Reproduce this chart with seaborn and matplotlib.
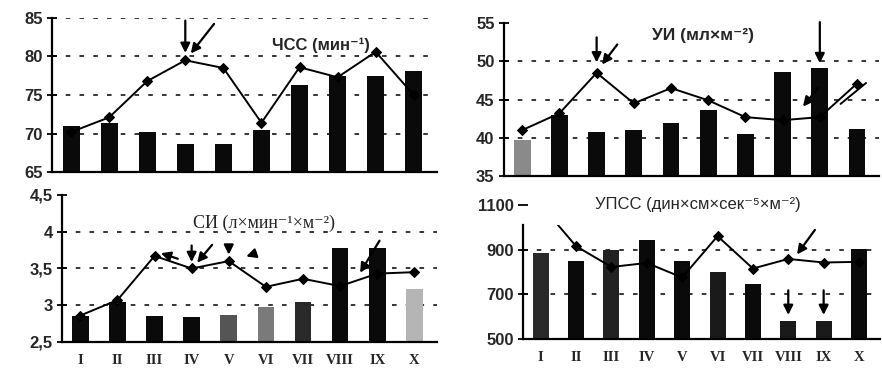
import numpy as np
import pandas as pd
import matplotlib
matplotlib.use("Agg")
import matplotlib.pyplot as plt
from matplotlib.patches import Rectangle
import seaborn as sns

stages = ["I", "II", "III", "IV", "V", "VI", "VII", "VIII", "IX", "X"]

hr_bars = [71.0, 71.4, 70.2, 68.6, 68.7, 70.4, 76.3, 77.5, 77.5, 78.1]
hr_line = [70.2, 72.1, 76.8, 79.5, 78.5, 71.4, 78.6, 77.3, 80.6, 75.0]

si_bars = [39.7, 43.0, 40.7, 41.0, 41.9, 43.6, 40.5, 48.6, 49.1, 41.1]
si_line = [41.0, 43.2, 48.5, 44.5, 46.5, 44.9, 42.7, 42.3, 42.7, 47.1]

ci_bars = [2.86, 3.05, 2.85, 2.84, 2.87, 2.97, 3.04, 3.78, 3.78, 3.22]
ci_line = [2.86, 3.07, 3.67, 3.50, 3.60, 3.25, 3.36, 3.26, 3.43, 3.45]

svr_bars = [883, 850, 900, 941, 850, 801, 745, 580, 580, 903]
svr_line = [1100, 915, 822, 840, 775, 960, 815, 858, 842, 845]

sns.set_theme(style="white")
plt.rcParams["font.family"] = ["Liberation Sans", "DejaVu Sans"]

fig = plt.figure(figsize=(8.82, 3.8), dpi=100)
fig.patch.set_facecolor("white")

SANS = ["Liberation Sans", "DejaVu Sans"]
SERIF = ["Liberation Serif", "DejaVu Serif"]

panels = [
    dict(pos=[0.059, 0.547, 0.436, 0.406], bars=hr_bars, line=hr_line, ylim=(65, 85),
         ticks=[65, 70, 75, 80, 85], labels=["65", "70", "75", "80", "85"], grid=[70, 75, 80, 85],
         title="ЧСС (мин⁻¹)", tpos=(0.70, 0.825), tsize=12, tfam=SANS, tweight="bold",
         colors=["#0a0a0a"] * 10, xlabels=False, spine_top=None),
    dict(pos=[0.571, 0.537, 0.426, 0.402], bars=si_bars, line=si_line, ylim=(35, 55),
         ticks=[35, 40, 45, 50, 55], labels=["35", "40", "45", "50", "55"], grid=[40, 45, 50],
         title="УИ (мл×м⁻²)", tpos=(0.53, 0.92), tsize=12.5, tfam=SANS, tweight="bold",
         colors=["#8a8a8a"] + ["#0a0a0a"] * 9, xlabels=False, spine_top=None),
    dict(pos=[0.070, 0.10, 0.425, 0.387], bars=ci_bars, line=ci_line, ylim=(2.5, 4.5),
         ticks=[2.5, 3, 3.5, 4, 4.5], labels=["2,5", "3", "3,5", "4", "4,5"], grid=[3, 3.5, 4],
         title="СИ (л×мин⁻¹×м⁻²)", tpos=(0.54, 0.81), tsize=13, tfam=SERIF, tweight="normal",
         colors=["#0a0a0a"] * 4 + ["#555555", "#7a7a7a", "#2a2a2a", "#0a0a0a", "#0a0a0a", "#b5b5b5"],
         xlabels=True, spine_top=None),
    dict(pos=[0.593, 0.108, 0.405, 0.353], bars=svr_bars, line=svr_line, ylim=(500, 1100),
         ticks=[500, 700, 900, 1100], labels=["500", "700", "900", "1100"], grid=[700, 900],
         title="УПСС (дин×см×сек⁻⁵×м⁻²)", tpos=(0.49, 1.0), tsize=12, tfam=SANS, tweight="normal",
         colors=["#2a2a2a", "#0a0a0a", "#222222", "#0a0a0a", "#0a0a0a", "#1a1a1a", "#0a0a0a", "#1a1a1a", "#1a1a1a", "#0a0a0a"],
         xlabels=True, spine_top=1010),
]

axes = []
for p in panels:
    ax = fig.add_axes(p["pos"])
    axes.append(ax)
    df = pd.DataFrame({"stage": stages, "bar": p["bars"], "line": p["line"], "pos": np.arange(len(stages))})
    sns.barplot(data=df, x="stage", y="bar", hue="stage", palette=p["colors"], legend=False,
                width=0.45, ax=ax, edgecolor="none", zorder=2)
    sns.lineplot(data=df, x="pos", y="line", ax=ax, color="black", lw=1.4, marker="D",
                 markersize=5.5, markeredgecolor="black", zorder=4)
    ax.set_ylim(*p["ylim"])
    ax.set_xlim(-0.5, 9.6)
    if p["spine_top"] is not None:
        ln = ax.lines[-1]
        clip = Rectangle((-0.5, p["ylim"][0]), 10.1, p["spine_top"] - p["ylim"][0],
                         transform=ax.transData, facecolor="none", edgecolor="none")
        ax.add_patch(clip)
        ln.set_clip_path(clip)
        ax.spines["left"].set_bounds(p["ylim"][0], p["spine_top"])
    ax.set_yticks(p["ticks"])
    ax.set_yticklabels(p["labels"], fontsize=12, fontweight="bold")
    for t in p["grid"]:
        ax.axhline(t, color="black", lw=1.1, ls=(0, (3, 6)), zorder=1)
    ax.set_xlabel("")
    ax.set_ylabel("")
    ax.set_xticks(np.arange(10))
    if p["xlabels"]:
        ax.set_xticklabels(stages, fontsize=10.5, fontweight="bold", family="Liberation Serif")
    else:
        ax.set_xticklabels([])
    ax.set_xticks(np.arange(10) + 0.5, minor=True)
    ax.tick_params(axis="x", which="major", length=0, pad=9)
    ax.tick_params(axis="x", which="minor", length=6, width=1.3, direction="inout", color="black")
    ax.tick_params(axis="y", length=7, width=1.3, direction="inout", color="black", left=True, pad=3)
    for s in ["top", "right"]:
        ax.spines[s].set_visible(False)
    for s in ["left", "bottom"]:
        ax.spines[s].set_color("black")
        ax.spines[s].set_linewidth(1.6)
    ax.set_facecolor("white")
    ax.text(p["tpos"][0], p["tpos"][1], p["title"], transform=ax.transAxes, ha="center",
            va="center", fontsize=p["tsize"], family=p["tfam"], fontweight=p["tweight"])

ap = dict(arrowstyle="-|>", color="black", lw=1.6, mutation_scale=14)

# Panel 1 arrows
ax = axes[0]
ax.annotate("", xy=(3, hr_line[3] + 0.6), xytext=(3, hr_line[3] + 5.5), arrowprops=ap)
ax.annotate("", xy=(3.1, hr_line[3] + 0.6), xytext=(3.8, hr_line[3] + 5.0), arrowprops=ap)

# Panel 2 arrows
ax = axes[1]
ax.annotate("", xy=(2, si_line[2] + 1.0), xytext=(2, si_line[2] + 5.0), arrowprops=ap)
ax.annotate("", xy=(2.1, si_line[2] + 0.8), xytext=(2.6, si_line[2] + 4.0), arrowprops=ap)
ax.annotate("", xy=(8, si_bars[8] + 0.3), xytext=(8, 55.5), arrowprops=ap, annotation_clip=False)
ax.annotate("", xy=(7.5, si_line[7] + 1.5), xytext=(8.0, si_line[7] + 4.5), arrowprops=ap)
ax.annotate("", xy=(9.3, si_line[9] + 0.3), xytext=(8.5, si_line[8] + 1.5),
            arrowprops=dict(arrowstyle="-", color="black", lw=1.4))

# Panel 3 arrows
ax = axes[2]
ax.annotate("", xy=(2.1, ci_line[2] + 0.05), xytext=(2.7, ci_line[2] - 0.05), arrowprops=ap)
ax.annotate("", xy=(3, ci_line[3] + 0.05), xytext=(3, ci_line[3] + 0.35), arrowprops=ap)
ax.annotate("", xy=(3.1, ci_line[3] + 0.05), xytext=(3.6, ci_line[3] + 0.35), arrowprops=ap)
ax.annotate("", xy=(4, ci_line[4] + 0.05), xytext=(4, ci_line[4] + 0.25), arrowprops=ap)
ax.annotate("", xy=(4.4, ci_line[4] + 0.05), xytext=(4.8, ci_line[4] + 0.12), arrowprops=ap)
ax.annotate("", xy=(7.5, ci_line[7] + 0.15), xytext=(8.1, ci_line[7] + 0.65), arrowprops=ap)

# Panel 4 arrows
ax = axes[3]
ax.annotate("", xy=(7, svr_bars[7] + 15), xytext=(7, svr_bars[7] + 150), arrowprops=ap)
ax.annotate("", xy=(8, svr_bars[8] + 15), xytext=(8, svr_bars[8] + 150), arrowprops=ap)
ax.annotate("", xy=(7.2, svr_line[7] + 10), xytext=(7.8, svr_line[7] + 140), arrowprops=ap)

fig.savefig("out.png", dpi=100, facecolor="white")
